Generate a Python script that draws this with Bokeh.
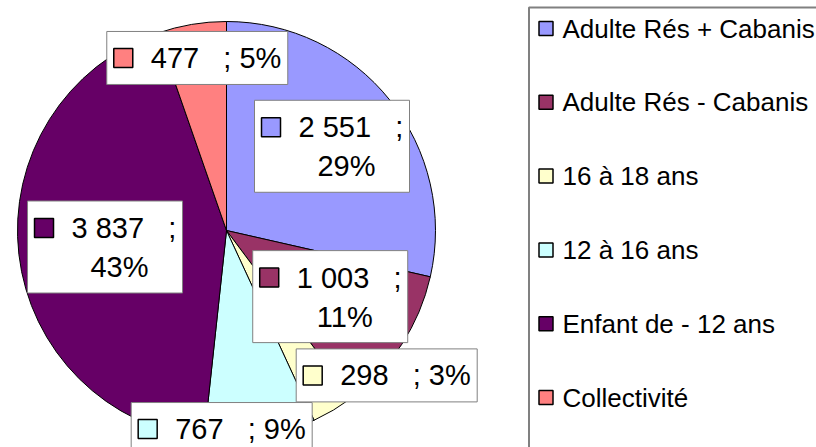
import math
from bokeh.plotting import figure
from bokeh.models import Range1d, ColumnDataSource
from bokeh.core.properties import value
from bokeh.embed import file_html
from bokeh.resources import INLINE

# ---- data ----
categories = ["Adulte Rés + Cabanis", "Adulte Rés - Cabanis", "16 à 18 ans",
              "12 à 16 ans", "Enfant de - 12 ans", "Collectivité"]
values = [2551, 1003, 298, 767, 3837, 477]
colors = ["#9999FF", "#993366", "#FFFFCC", "#CCFFFF", "#660066", "#FF8080"]

# ---- layout ----
W, H = 816, 447
CX, CY, R = 226, 217, 209
label_dist = [135, 123, 216, 198.6, 122.6, 175]
label_dangle = [0.0, -0.5, -17.1, 10.7, -1.2, 0.0]
label_wrapped = [True, True, False, False, True, False]
FONT = "Liberation Sans"
LFS = 29   # label font px
GFS = 26   # legend font px

total = sum(values)
fracs = [v / total for v in values]
cum = [0.0]
for f in fracs:
    cum.append(cum[-1] + f)

p = figure(width=W, height=H, output_backend="svg", toolbar_location=None,
           x_range=Range1d(0, W), y_range=Range1d(0, H), min_border=0)
p.axis.visible = False
p.grid.visible = False
p.outline_line_color = None
p.background_fill_color = "white"

# pie (clockwise from 12 o'clock)
starts = [math.pi / 2 - cum[i + 1] * 2 * math.pi for i in range(len(values))]
ends = [math.pi / 2 - cum[i] * 2 * math.pi for i in range(len(values))]
src = ColumnDataSource(dict(start=starts, end=ends, color=colors))
p.wedge(x=CX, y=CY, radius=R, radius_units="screen", start_angle="start",
        end_angle="end", fill_color="color", line_color="black", line_width=1,
        source=src)

# data labels
def fmt(v):
    return f"{v:,}".replace(",", " ")

NB = "\u00a0"
TXT = dict(text_font=value(FONT), text_baseline="middle", text_color="black")
for i, v in enumerate(values):
    pct = round(fracs[i] * 100)
    mid = (cum[i] + cum[i + 1]) / 2 * 360 + label_dangle[i]
    a = math.radians(mid)
    bx = CX + label_dist[i] * math.sin(a)
    by = CY + label_dist[i] * math.cos(a)
    if label_wrapped[i]:
        bw, bh = 155, 92
    else:
        bw, bh = 181, 53
    left = bx - bw / 2
    p.rect(x=bx, y=by, width=bw, height=bh, width_units="screen",
           height_units="screen", fill_color="white", line_color="#808080",
           line_width=1)
    if label_wrapped[i]:
        l1y = by + 19
        p.rect(x=left + 16.5, y=l1y, width=19, height=19, width_units="screen",
               height_units="screen", fill_color=colors[i], line_color="black",
               line_width=1.5)
        p.text(x=[left + 44], y=[l1y], text=[fmt(v) + NB * 3 + ";"],
               text_font_size=f"{LFS}px", text_align="left", **TXT)
        l2y = by - 20
        p.text(x=[left + 29 + (bw - 29) / 2], y=[l2y], text=[f"{pct}%"],
               text_font_size=f"{LFS}px", text_align="center", **TXT)
    else:
        p.rect(x=left + 16.5, y=by, width=19, height=19, width_units="screen",
               height_units="screen", fill_color=colors[i], line_color="black",
               line_width=1.5)
        p.text(x=[left + 44], y=[by],
               text=[fmt(v) + NB * 3 + "; " + f"{pct}%"],
               text_font_size=f"{LFS}px", text_align="left", **TXT)

# legend (drawn manually)
LEG_LEFT = 528.5
LEG_TOP = H - 7
ROW0 = H - 28
ROW_STEP = 73.8
p.quad(left=[LEG_LEFT], right=[W + 50], top=[LEG_TOP], bottom=[-50],
       fill_color="white", line_color="#808080", line_width=2)
for i, c in enumerate(categories):
    ry = ROW0 - i * ROW_STEP
    p.rect(x=LEG_LEFT + 17, y=ry, width=14, height=14, width_units="screen",
           height_units="screen", fill_color=colors[i], line_color="black",
           line_width=1.5)
    p.text(x=[LEG_LEFT + 33.5], y=[ry], text=[c],
           text_font_size=f"{GFS}px", text_align="left", **TXT)

open("out.html", "w").write(file_html(p, INLINE))
